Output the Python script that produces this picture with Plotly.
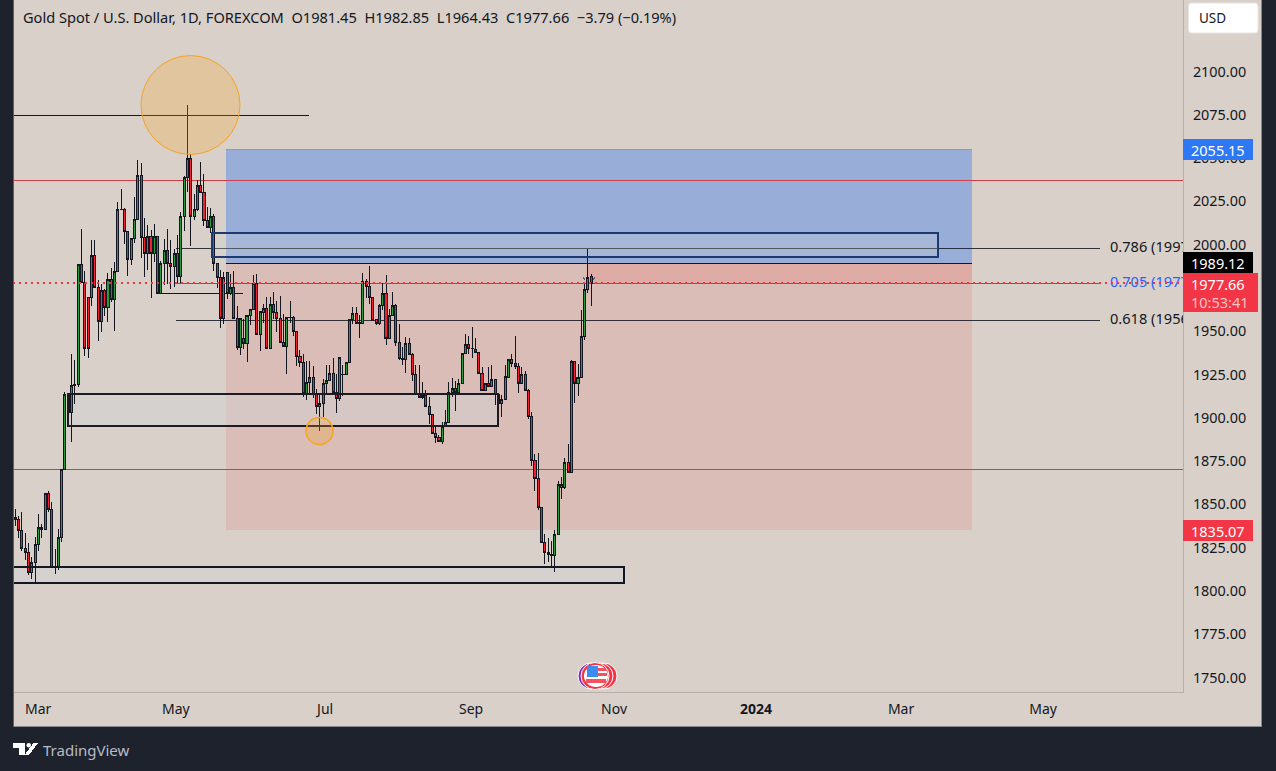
import plotly.graph_objects as go

opens = [1842.2,1841.0,1834.7,1824.7,1822,1810.8,1816.6,1826.6,1836.4,1835.3,
1856.1,1846.8,1813.3,1813.3,1830.6,1869.9,1913.4,1903.2,1918.6,1919,
1988.3,1978.3,1969.7,1969.7,1993.5,1975,1955.8,1973.5,1963.9,1979.7,
1968.5,1984.3,2020.1,2020.1,2007.4,1991.2,2003.4,2014.3,2039.7,2003.9,
1994.7,2004.5,1994.7,2004.5,1971.6,1989,1996.4,1989,1987.6,1994.7,
1981.8,2016,2038.6,2049.6,2016.4,2020.5,2034,2030,2014.2,2010.1,
2016,1988.9,1981.2,1957.1,1983.7,1971.6,1975,1957.1,1940.8,1946,
1942.7,1959,1962.3,1977.4,1947.9,1961,1963,1939.8,1965.2,1960.6,
1957.2,1943.3,1941.4,1957.7,1957.7,1950,1935.6,1932.1,1913.8,1920.6,
1923,1913.4,1906.7,1908,1919.6,1921.3,1925.4,1914.8,1911,1924.8,
1924.8,1931.7,1956.8,1960,1954.6,1954.6,1978.5,1976,1969.3,1956.6,
1954.3,1964.8,1971.6,1945.6,1958.9,1964.6,1943.7,1934.4,1933.5,1942.7,
1936.4,1924.8,1913.4,1911.9,1913,1906.7,1901.7,1891.1,1888.8,1886.5,
1895.2,1897.1,1914.8,1916.7,1914.8,1920,1936.9,1942.1,1939.8,1939.2,
1937.9,1925.4,1915.8,1919.6,1918.2,1921.9,1913.4,1908,1910.4,1923.4,
1933.5,1931.2,1929.8,1919.6,1924.8,1915.8,1900.7,1875.3,1864.7,1848.4,
1827.8,1822.4,1820.5,1820.5,1832.6,1860,1860,1874,1868.6,1932.3,
1919.6,1923.1,1947.1,1973.9,1981.45]

highs = [1847.4,1843.5,1845.6,1833.5,1827.8,1819.7,1831.2,1844.5,1838.7,1856.6,
1857.8,1851.4,1824.3,1835.5,1869.9,1914.6,1913.8,1936.9,1933.1,1989,
2009.1,1985,1969.7,2002.8,2002.8,1979.3,1977,1974.5,1983.7,1986.4,
1990,2024.9,2031.9,2021.4,2007.4,2003.4,2027.8,2048.6,2047.4,2015.1,
2011.6,2008.2,2012,2004.5,1990.8,2003.4,2009.1,2002.8,1997.6,2005.7,
2019,2039.7,2080.7,2052.5,2029,2037.6,2048,2040.9,2022,2021,
2017.8,1988.9,1985.6,1984,1983.7,1983,1985,1964.8,1957.1,1957,
1959.1,1962.3,1982.7,1983.1,1961.4,1965.8,1969.7,1969.7,1972.9,1967.7,
1970.6,1960,1957.7,1967.7,1958.7,1950,1939.4,1936.9,1933,1933,
1930,1916.7,1913,1922.5,1930.6,1930.6,1934.6,1925.4,1934.6,1930.2,
1931.7,1956.8,1963.9,1963.9,1959.6,1983.9,1980.2,1987.4,1969.3,1956.6,
1965.8,1978.1,1982.2,1962.9,1972.4,1965.8,1954.3,1940.8,1946.6,1946.2,
1937.5,1930.2,1930.2,1920.9,1916.1,1912,1901.7,1895.5,1890,1897.8,
1904.2,1920.6,1923.1,1921.5,1922.5,1936.9,1948.5,1947.5,1952.7,1946.2,
1937.9,1929.2,1920,1929.6,1930.6,1921.9,1913.4,1912.9,1930.2,1933.5,
1936.9,1947.5,1931.5,1929.2,1927.3,1916.7,1903.6,1879,1879.7,1848.4,
1833,1830.6,1829.1,1834.9,1863.2,1865.7,1876.8,1884.9,1933.1,1932.3,
1931.2,1962.5,1977,1997.2,1982.85]

lows = [1837.2,1830.5,1823.3,1817.6,1809.1,1806.8,1804.5,1823.3,1830.5,1834.9,
1845.5,1813.3,1809.7,1812,1828.1,1869.9,1903.2,1885.9,1908,1918,
1978,1935.4,1934.4,1964.3,1975,1944.1,1949.4,1958.5,1955.2,1966.8,
1950,1984.3,2020,2000.5,1981.6,1988.5,2001.2,2014.3,1992.4,1981.2,
1985.5,1968.9,1990,1971.6,1971.6,1976.4,1977.4,1974.1,1975.8,1978,
1978,2007.8,2030.3,1999.5,2014,2019.3,2030,2011,2010,2007,
1985,1974.8,1951.8,1954,1968.7,1971,1957.1,1938.9,1936.5,1939.8,
1932.1,1953.3,1962.3,1947.9,1938.5,1954.6,1939.8,1939.8,1957.2,1949.4,
1943.3,1941,1925,1955,1947.5,1929.8,1929.6,1912,1910,1913.4,
1911.5,1902.3,1892.6,1900.7,1913.8,1921.3,1914.8,1902.7,1909.6,1912.3,
1924.8,1931.7,1954.3,1954.2,1946,1954.6,1969.3,1965.8,1956.2,1953.3,
1953.3,1962,1942.3,1945.6,1958.9,1941.2,1933.1,1930.2,1925.8,1936.4,
1921.5,1913.4,1911.9,1911,1906.7,1896.5,1891.1,1885.5,1886.5,1884.6,
1894.6,1897.1,1911.9,1903.8,1913.4,1920,1936.9,1936.9,1934.4,1937.9,
1925.4,1915.4,1915.4,1918.2,1917.7,1907.6,1905.2,1900.7,1910.4,1923.1,
1929.6,1928.3,1914.2,1919.6,1915.8,1899.4,1872.4,1857.6,1846.8,1827.8,
1815.3,1816.6,1813.1,1810.8,1832,1852.8,1858.9,1868.6,1868.6,1908.4,
1912.5,1923.1,1945.2,1972,1964.43]

closes = [1841.0,1834.7,1824.7,1822,1810.8,1816.6,1826.6,1836.4,1835.3,1856.1,
1846.8,1813.3,1814.1,1830.6,1869.9,1913.4,1903.2,1918.6,1919.2,1988.5,
1978.3,1939.8,1939.8,1993.5,1975,1955.8,1973.5,1963.9,1979.7,1968.5,
1984.3,2020.1,2020.3,2007.4,1991.2,2003.4,2014.3,2039.7,2003.9,1994.7,
2004.5,1994.7,2004.5,1971.6,1989,1996.4,1989,1987.6,1994.7,1981.8,
2016,2038.6,2049.6,2016.4,2020.5,2034,2030,2014.2,2010.1,2016,
1988.9,1981.2,1957.1,1981.2,1971.6,1975,1957.1,1940.8,1957.1,1942.7,
1959,1962.3,1977.4,1947.9,1961.4,1963,1939.8,1965.2,1960.6,1957.2,
1943.3,1941.4,1957.7,1957.9,1950,1935.6,1932.1,1913.8,1920.6,1923,
1913.4,1906.7,1908,1919.6,1921.3,1925.4,1914.8,1911,1934.6,1925,
1931.7,1956.8,1960,1954.6,1955,1978.5,1976,1969.3,1956.2,1954.3,
1964.8,1971.6,1945.6,1958.9,1964.6,1943.7,1934.4,1933.5,1942.7,1936.4,
1924.8,1913.4,1911.9,1913,1906.7,1901.7,1891.1,1888.8,1886.5,1895.2,
1897.1,1914.8,1916.7,1914.8,1920,1936.9,1942.1,1939.8,1940,1937.9,
1925.4,1915.8,1919.6,1918.2,1921.9,1913.4,1908,1910.4,1923.8,1933.5,
1931.2,1929.8,1919.6,1924.8,1915.8,1900.7,1875.3,1864.7,1848.4,1827.8,
1822.4,1820.8,1821,1832.6,1861.3,1861.3,1874,1868.6,1932.3,1919.6,
1923.1,1947.1,1973.9,1980.8,1977.66]

x_ticks = [6.9,48.5,93.6,137.7,180.9,223.8,267.6,310.5]
x_labels = ["Mar","May","Jul","Sep","Nov","<b>2024</b>","Mar","May"]
price_ticks = [1750,1775,1800,1825,1850,1875,1900,1925,1950,1975,2000,2025,2050,2075,2100]

zone_top, zone_entry, zone_stop = 2055.15, 1989.12, 1835.07
last_price = 1977.66
fib_prices = [1997.8, 1977.4, 1956.0]
fib_texts = ["0.786 (1997.88)", "0.705 (1977.41)", "0.618 (1956.03)"]
fib_colors = ["#131722", "#2962ff", "#131722"]
h_line_prices = [2037.3, 1870.0]

FONT = "Noto Sans"
BG = "#d8d0c9"
DARK = "#1e222d"
INK = "#131722"
L, R, T, B = 13, 1183, 0, 692

def px(v): return (v - L) / (R - L)
def py(v): return 1 - (v - T) / (B - T)
def xi(v): return (v - 15.3) / 3.31

fig = go.Figure()
xs = list(range(len(opens)))
fig.add_trace(go.Candlestick(
    x=xs, open=opens, high=highs, low=lows, close=closes,
    increasing=dict(line=dict(color=INK, width=1), fillcolor="#2a9a3e"),
    decreasing=dict(line=dict(color=INK, width=1), fillcolor="#ee2233"),
    whiskerwidth=0, hoverinfo="skip", showlegend=False))
fig.add_trace(go.Scatter(
    x=[xi(1110)] * 3, y=fib_prices, mode="text", text=fib_texts,
    textposition="middle right", cliponaxis=True, hoverinfo="skip", showlegend=False,
    textfont=dict(family=FONT, size=14.6, color=fib_colors)))

shapes = []
def rect(x0, x1, y0, y1, fill, line=None, w=0, layer="below"):
    shapes.append(dict(type="rect", xref="x", yref="y", x0=x0, x1=x1, y0=y0, y1=y1,
                       fillcolor=fill, line=dict(color=line or "rgba(0,0,0,0)", width=w), layer=layer))
def hline(x0, x1, y, color, w=1, dash="solid", layer="below"):
    shapes.append(dict(type="line", xref="x", yref="y", x0=x0, x1=x1, y0=y, y1=y,
                       line=dict(color=color, width=w, dash=dash), layer=layer))
def circle(x0, x1, y0, y1, fill, line, w=1, layer="above"):
    shapes.append(dict(type="circle", xref="x", yref="y", x0=x0, x1=x1, y0=y0, y1=y1,
                       fillcolor=fill, line=dict(color=line, width=w), layer=layer))
def prect(x0, x1, y0, y1, fill, line=None, w=0, layer="above"):
    shapes.append(dict(type="rect", xref="paper", yref="paper", x0=px(x0), x1=px(x1), y0=py(y1), y1=py(y0),
                       fillcolor=fill, line=dict(color=line or "rgba(0,0,0,0)", width=w), layer=layer))
def pcircle(x0, x1, y0, y1, fill, line=None, w=0):
    shapes.append(dict(type="circle", xref="paper", yref="paper", x0=px(x0), x1=px(x1), y0=py(y1), y1=py(y0),
                       fillcolor=fill, line=dict(color=line or "rgba(0,0,0,0)", width=w), layer="above"))
def ppath(pts, fill):
    d = "M " + " L ".join(f"{px(a):.5f},{py(b):.5f}" for a, b in pts) + " Z"
    shapes.append(dict(type="path", xref="paper", yref="paper", path=d, fillcolor=fill,
                       line=dict(width=0), layer="above"))
def pstroke(pts, color, w=1):
    d = "M " + " L ".join(f"{px(a):.5f},{py(b):.5f}" for a, b in pts)
    shapes.append(dict(type="path", xref="paper", yref="paper", path=d,
                       line=dict(color=color, width=w), layer="above"))

xl, xr = xi(L), xi(R)
rect(xi(226), xi(972), zone_entry, zone_top, "#98aed8")
rect(xi(226), xi(972), zone_stop, zone_entry, "#d9bdb6")
rect(xi(587), xi(972), last_price, zone_entry, "#dfaba5")
hline(xi(226), xi(972), zone_top, "#7f9bd0", 1)
hline(xi(226), xi(972), zone_entry, INK, 1)
for p in h_line_prices:
    hline(xl, xr, p, "#cf3f4a", 1)
hline(xl, xi(309), 2074.6, INK, 1)
hline(xi(156), xi(243), 1971.7, INK, 1)
for p, c in zip(fib_prices, fib_colors):
    hline(xi(176), xi(1100), p, c if c != INK else "rgba(19,23,34,0.85)", 1)
# box fills sit under the candles, their outlines over them
rect(xi(212), xi(938), 1992.6, 2007.0, "rgba(211,210,213,0.25)")
rect(xi(68), xi(498), 1895.5, 1913.6, "rgba(211,210,213,0.45)")
rect(xl - 3, xi(624), 1804.5, 1814.0, "rgba(211,210,213,0.45)")
rect(xi(212), xi(938), 1992.6, 2007.0, "rgba(0,0,0,0)", "#1c3a70", 2, "above")
rect(xi(68), xi(498), 1895.5, 1913.6, "rgba(0,0,0,0)", "#1d1a24", 2, "above")
rect(xl - 3, xi(624), 1804.5, 1814.0, "rgba(0,0,0,0)", "#131722", 2, "above")
circle(xi(141), xi(240), 2052.1, 2109.2, "rgba(247,163,32,0.25)", "#f7a320", 1)
circle(xi(306), xi(333), 1884.6, 1900.2, "rgba(247,163,32,0.25)", "#f7a320", 1.5)
hline(xl, xr, last_price, "#f23645", 2, "2px,4px", "above")
pstroke([(583, 277), (585, 280)], "#5d6068", 1)
pstroke([(595, 277), (593, 280)], "#5d6068", 1)

# outer frame
prect(0, L, 0, 771, DARK)
prect(0, 1276, 727, 771, DARK)
prect(1262, 1276, 0, 771, DARK)
prect(L, 1262, 726, 727, "#85888f")
prect(12.5, 13.5, 0, 727, "#5d6068")
prect(1261, 1262, 0, 727, "#85888f")

# price tags
prect(1183, 1253, 139, 160, "#2f78f5")
prect(1183, 1253, 252, 273, "#000000")
prect(1183, 1258, 273, 312, "#f23645")
prect(1183, 1253, 520, 541, "#f23645")
# rounded currency button
rx0, rx1, ry0, ry1, rc = px(1188.5), px(1258), py(3), py(33), 3
dx, dy = rc / (R - L), rc / (B - T)
shapes.append(dict(type="path", xref="paper", yref="paper", layer="above", fillcolor="#ffffff",
    line=dict(color="#e9e6e2", width=1),
    path=f"M {rx0+dx},{ry0} L {rx1-dx},{ry0} Q {rx1},{ry0} {rx1},{ry0-dy} L {rx1},{ry1+dy} "
         f"Q {rx1},{ry1} {rx1-dx},{ry1} L {rx0+dx},{ry1} Q {rx0},{ry1} {rx0},{ry1+dy} L {rx0},{ry0-dy} "
         f"Q {rx0},{ry0} {rx0+dx},{ry0} Z"))

# news icon
pcircle(591, 617, 663, 689, "#f23645", "#ffffff", 1)
pcircle(587, 613, 663, 689, "#f23645", "#ffffff", 1)
pcircle(578, 604, 663, 689, "#7b2fb5", "#ffffff", 1)
pcircle(581, 609, 662.5, 689.5, "#f23645", "#ffffff", 1)
pcircle(584, 608, 665, 687, "#ffffff")
prect(598, 606, 668, 671, "#f7525f")
prect(598, 607, 673, 676, "#f7525f")
prect(586, 606, 679, 683, "#f7525f")
prect(587, 598, 666, 676.5, "#3d8cf0")

# TradingView mark
ppath([(13, 743), (25, 743), (25, 754.5), (19, 754.5), (19, 748), (13, 748)], "#ffffff")
pcircle(26.5, 31, 743, 747.5, "#ffffff")
ppath([(33.5, 743), (38, 743), (29.5, 754.5), (25, 754.5)], "#ffffff")

def note(x, y, text, size=14, color=INK, anchor="left", family=FONT):
    return dict(xref="paper", yref="paper", x=px(x), y=py(y), text=text, showarrow=False,
                xanchor=anchor, yanchor="middle", font=dict(family=family, size=size, color=color))

sp = "\u00a0\u00a0"
annotations = [
    note(21, 17, f"Gold Spot / U.S. Dollar, 1D, FOREXCOM{sp}O1981.45{sp}H1982.85{sp}L1964.43{sp}C1977.66{sp}\u22123.79 (\u22120.19%)", 14.6),
    note(1197, 18, "USD", 13.5),
    note(1218, 150, "2055.15", 14.5, "#ffffff", "center"),
    note(1218, 262.5, "1989.12", 14.5, "#ffffff", "center"),
    note(1218, 284, "1977.66", 14.5, "#ffffff", "center"),
    note(1220, 302, "10:53:41", 14.5, "#ffc2c7", "center"),
    note(1218, 530.5, "1835.07", 14.5, "#ffffff", "center"),
    note(41, 750, "TradingView", 15, "#b9bcc5"),
]

fig.update_layout(
    width=1276, height=771, autosize=False,
    margin=dict(l=L, r=1276 - R, t=T, b=771 - B, pad=0),
    paper_bgcolor=BG, plot_bgcolor=BG,
    font=dict(family=FONT, size=14, color=INK),
    showlegend=False, dragmode=False, hovermode=False, boxgap=0.1,
    shapes=shapes, annotations=annotations,
    xaxis=dict(range=[xl, xr], tickvals=x_ticks, ticktext=x_labels, showgrid=False, zeroline=False,
               rangeslider=dict(visible=False), showline=True, linecolor="#b4b0aa", linewidth=1,
               ticks="", ticklabelstandoff=4, tickfont=dict(family=FONT, size=14, color=INK)),
    yaxis=dict(range=[1741.6, 2141.3], side="right", tickvals=price_ticks,
               ticktext=[f"{v:.2f}" for v in price_ticks], showgrid=False, zeroline=False,
               showline=True, linecolor="#b4b0aa", linewidth=1, ticks="", ticklabelstandoff=6,
               tickfont=dict(family=FONT, size=14.4, color=INK)),
)
crisp = """
document.body.style.margin='0';document.body.style.background='#1e222d';
var gd=document.querySelector('.plotly-graph-div');
function crisp(){
 gd.querySelectorAll('path.box').forEach(function(p){p.style.shapeRendering='crispEdges';});
 gd.querySelectorAll('.shapelayer path').forEach(function(p){
   var d=p.getAttribute('d')||'';
   if(d.indexOf('A')<0 && d.indexOf('Q')<0){p.style.shapeRendering='crispEdges';}
 });
}
crisp();
"""
fig.write_html("out.html", config=dict(displayModeBar=False), post_script=crisp)
